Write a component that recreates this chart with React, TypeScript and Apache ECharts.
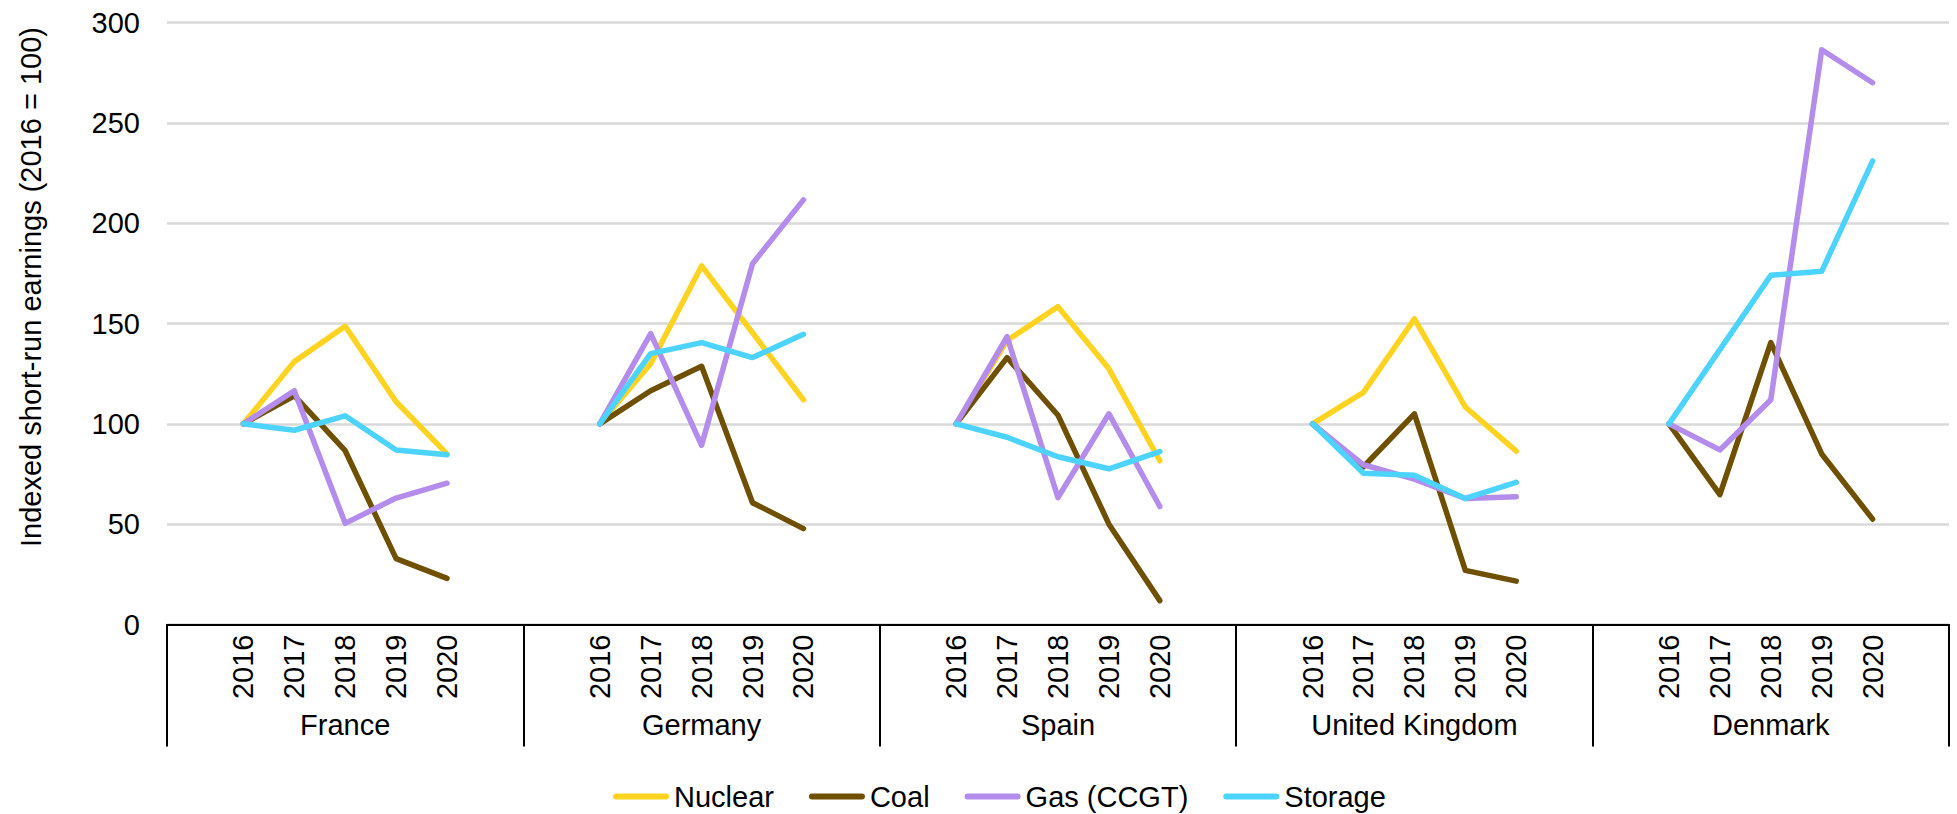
import React, { useEffect, useRef } from "react";
import * as echarts from "echarts";

const countries = ["France", "Germany", "Spain", "United Kingdom", "Denmark"];
const years = ["2016", "2017", "2018", "2019", "2020"];

const nuclear: (number | null)[][] = [
  [100, 131, 148.6, 111, 85],
  [100, 130, 178.7, 145.4, 112],
  [100, 141.5, 158.4, 127.4, 81.6],
  [100, 115.7, 152.3, 108.4, 86.4],
  [null, null, null, null, null],
];
const coal: (number | null)[][] = [
  [100, 114, 86.6, 32.8, 23],
  [100, 116.5, 128.7, 60.7, 47.8],
  [100, 133, 104.3, 50, 11.9],
  [100, 78.6, 105, 27, 21.6],
  [100, 64.7, 140.5, 85, 52.5],
];
const gas: (number | null)[][] = [
  [100, 116.5, 50.4, 63, 70.4],
  [100, 145, 89.3, 179.8, 211.6],
  [100, 143.4, 63.2, 105, 58.8],
  [100, 79.6, 72.4, 62.8, 63.7],
  [100, 87, 112, 286.4, 270],
];
const storage: (number | null)[][] = [
  [100, 96.8, 104, 87, 84.6],
  [100, 135, 140.5, 133, 144.6],
  [100, 93.3, 83.6, 77.6, 86.2],
  [100, 75.4, 74.4, 62.8, 70.8],
  [100, 137, 174, 176, 231],
];

const seriesNames = ["Nuclear", "Coal", "Gas (CCGT)", "Storage"];
const seriesColors = ["#FFD320", "#6E5000", "#B48CEC", "#4DD3FF"];
const seriesValues = [nuclear, coal, gas, storage];

const yTicks = { min: 0, max: 300, interval: 50 };
const yTitle = "Indexed short-run earnings (2016 = 100)";

const FONT = "'Liberation Sans', Arial, sans-serif";

// each country: blank slot, 5 years, blank slot
const categoryKeys: string[] = [];
countries.forEach((c) => {
  categoryKeys.push(c + "|a");
  years.forEach((y) => categoryKeys.push(c + "|" + y));
  categoryKeys.push(c + "|b");
});

function flatten(values: (number | null)[][]): (number | null)[] {
  const out: (number | null)[] = [];
  values.forEach((v) => {
    out.push(null);
    v.forEach((x) => out.push(x));
    out.push(null);
  });
  return out;
}

const CAPSULE = "path://M3,0 L53,0 A3,3 0 0 1 53,6 L3,6 A3,3 0 0 1 3,0 Z";

export default function App() {
  const ref = useRef<HTMLDivElement>(null);
  useEffect(() => {
    if (!ref.current) return;
    const chart = echarts.init(ref.current, null, { renderer: "svg" });
    chart.setOption({
      animation: false,
      backgroundColor: "#fff",
      grid: { left: 167, right: 8, top: 22.5, bottom: 189.5, containLabel: false },
      legend: {
        show: true,
        left: 613,
        top: 782,
        padding: 0,
        itemWidth: 56,
        itemHeight: 6,
        itemGap: 35,
        icon: CAPSULE,
        textStyle: { fontSize: 29, fontFamily: FONT, color: "#000" },
        data: seriesNames,
      },
      xAxis: [
        {
          type: "category",
          data: categoryKeys,
          boundaryGap: true,
          position: "bottom",
          axisLine: { show: true, lineStyle: { color: "#000", width: 2 } },
          axisTick: { show: false },
          axisLabel: {
            interval: 0,
            rotate: 90,
            margin: 10,
            fontSize: 29,
            fontFamily: FONT,
            color: "#000",
            formatter: (v: string) => {
              const p = v.split("|")[1];
              return p === "a" || p === "b" ? "" : p;
            },
          },
          splitLine: { show: false },
        },
        {
          type: "category",
          data: countries,
          boundaryGap: true,
          position: "bottom",
          axisLine: { show: false },
          axisTick: {
            show: true,
            interval: 0,
            length: 122,
            lineStyle: { color: "#000", width: 2 },
          },
          axisLabel: {
            interval: 0,
            margin: 86,
            fontSize: 29,
            fontFamily: FONT,
            color: "#000",
          },
          splitLine: { show: false },
        },
      ],
      yAxis: {
        type: "value",
        min: yTicks.min,
        max: yTicks.max,
        interval: yTicks.interval,
        axisLine: { show: false },
        axisTick: { show: false },
        axisLabel: { fontSize: 29, fontFamily: FONT, color: "#000", margin: 27 },
        splitLine: { show: true, lineStyle: { color: "#D9D9D9", width: 2.5 } },
      },
      graphic: [
        {
          type: "text",
          x: 31,
          y: 287,
          rotation: Math.PI / 2,
          style: {
            text: yTitle,
            fontSize: 29,
            fontFamily: FONT,
            fill: "#000",
            align: "center",
            verticalAlign: "middle",
          },
        },
      ],
      series: seriesNames.map((name, i) => ({
        name,
        type: "line",
        xAxisIndex: 0,
        data: flatten(seriesValues[i]),
        symbol: "none",
        connectNulls: false,
        color: seriesColors[i],
        lineStyle: { color: seriesColors[i], width: 5.5, cap: "round", join: "round" },
        itemStyle: { color: seriesColors[i] },
      })),
    });
    return () => chart.dispose();
  }, []);
  return (
    <div
      ref={ref}
      style={{ position: "fixed", left: 0, top: 0, width: 1957, height: 814, background: "#fff" }}
    />
  );
}
